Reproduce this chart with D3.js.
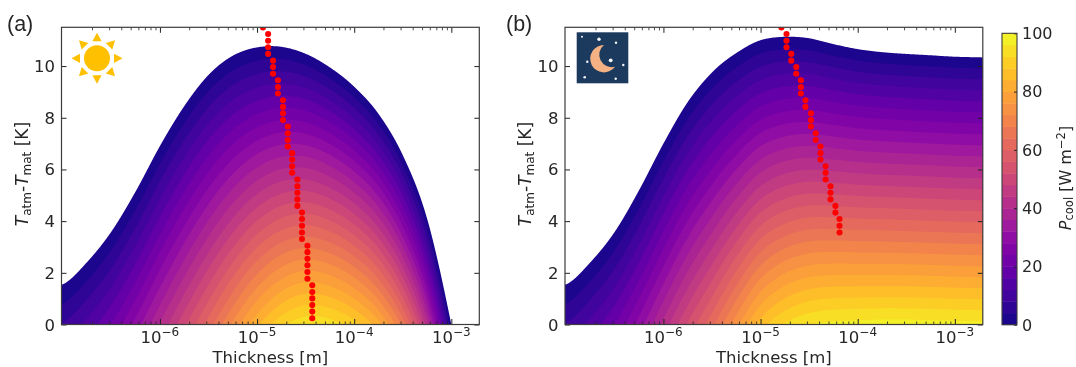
<!DOCTYPE html>
<html>
<head>
<meta charset="utf-8">
<script src="https://cdn.jsdelivr.net/npm/d3@7"></script>
<style>
  html, body { margin: 0; padding: 0; background: #fff; }
  svg { display: block; filter: blur(0.3px); }
  text { font-family: "DejaVu Sans", sans-serif; fill: #262626; }
</style>
</head>
<body>
<div id="chart"></div>
<script>
// --- Data ---
const thicknessLog = [-7, -6.75, -6.5, -6.25, -6, -5.75, -5.5, -5.25, -5, -4.75, -4.5, -4.25, -4, -3.75, -3.5, -3.25, -3, -2.75, -2.5];
const deltaRows = [0, 2, 4, 6, 8, 10, 12];

// cooling power at each thickness (one line per thickness, one value per deltaRows entry)
const powerDay = [
  [8.45, -2.45, -13.35, -24.25, -35.15, -46.05, -56.95],
  [13.4, 2.3, -8.8, -19.9, -31, -42.1, -53.2],
  [20.3, 9, -2.3, -13.6, -24.9, -36.2, -47.5],
  [29.6, 18.1, 6.6, -4.9, -16.4, -27.9, -39.4],
  [40.4, 28.7, 17, 5.3, -6.4, -18.1, -29.8],
  [51.1, 39, 26.9, 14.8, 2.7, -9.4, -21.5],
  [61.8, 49, 36.2, 23.4, 10.6, -2.2, -15],
  [72.8, 58.8, 44.8, 30.8, 16.8, 2.8, -11.2],
  [83.1, 67.6, 52.1, 36.6, 21.1, 5.6, -9.9],
  [90.8, 73.9, 57, 40.1, 23.2, 6.3, -10.6],
  [94.8, 76.7, 58.6, 40.5, 22.4, 4.3, -13.8],
  [94, 75.1, 56.2, 37.3, 18.4, -0.5, -19.4],
  [89.7, 70.2, 50.7, 31.2, 11.7, -7.8, -27.3],
  [81.5, 61.5, 41.5, 21.5, 1.5, -18.5, -38.5],
  [66.5, 46.2, 25.9, 5.6, -14.7, -35, -55.3],
  [41.4, 21.2, 1, -19.2, -39.4, -59.6, -79.8],
  [0, -20, -40, -60, -80, -100, -120],
  [-50, -70, -90, -110, -130, -150, -170],
  [-100, -120, -140, -160, -180, -200, -220]
];
const powerNight = [
  [8.45, -2.45, -13.35, -24.25, -35.15, -46.05, -56.95],
  [13.4, 2.3, -8.8, -19.9, -31, -42.1, -53.2],
  [20.3, 9, -2.3, -13.6, -24.9, -36.2, -47.5],
  [29.9, 18.4, 6.9, -4.6, -16.1, -27.6, -39.1],
  [41.3, 29.5, 17.7, 5.9, -5.9, -17.7, -29.5],
  [52.5, 40.3, 28.1, 15.9, 3.7, -8.5, -20.7],
  [62.9, 50, 37.1, 24.2, 11.3, -1.6, -14.5],
  [74.6, 60.4, 46.2, 32, 17.8, 3.6, -10.7],
  [85.8, 70.2, 54.6, 39, 23.4, 7.8, -7.8],
  [92.4, 75.8, 59.2, 42.6, 26, 9.4, -7.2],
  [95.8, 78.5, 61.2, 43.9, 26.6, 9.3, -8],
  [97.1, 79.2, 61.3, 43.4, 25.5, 7.6, -10.3],
  [97.5, 79.2, 60.9, 42.6, 24.3, 6, -12.3],
  [97.8, 79.2, 60.7, 42.1, 23.6, 5, -13.6],
  [97.8, 79.1, 60.4, 41.8, 23.1, 4.4, -14.3],
  [97.6, 78.9, 60.1, 41.4, 22.6, 3.9, -14.8],
  [97.4, 78.6, 59.8, 41, 22.2, 3.4, -15.4],
  [97.2, 78.4, 59.6, 40.8, 22, 3.2, -15.7],
  [97, 78.2, 59.4, 40.6, 21.8, 3, -15.9]
];

// red dots: optimum thickness at each temperature difference
const dotDelta = [0.24, 0.5, 0.75, 1.01, 1.26, 1.52, 1.77, 2.03, 2.29, 2.54, 2.8, 3.05, 3.31, 3.56, 3.82, 4.08, 4.33, 4.59, 4.84, 5.1, 5.35, 5.61, 5.87, 6.12, 6.38, 6.63, 6.89, 7.14, 7.4, 7.66, 7.91, 8.17, 8.42, 8.68, 8.94, 9.19, 9.45, 9.7, 9.96, 10.21, 10.47, 10.73, 10.98, 11.24, 11.49];
const dotThicknessDay = [
  3.7e-5, 3.7e-5, 3.7e-5, 3.7e-5, 3.7e-5, 3.7e-5,
  3.3e-5, 3.3e-5, 3.3e-5, 3.3e-5, 3.3e-5, 3.3e-5,
  2.9e-5, 2.9e-5, 2.9e-5, 2.9e-5, 2.9e-5,
  2.6e-5, 2.6e-5, 2.6e-5, 2.6e-5, 2.6e-5,
  2.3e-5, 2.3e-5, 2.3e-5, 2.3e-5,
  2.07e-5, 2.07e-5, 2.07e-5, 2.07e-5,
  1.85e-5, 1.85e-5, 1.85e-5, 1.85e-5,
  1.64e-5, 1.64e-5, 1.64e-5,
  1.46e-5, 1.46e-5, 1.46e-5,
  1.3e-5, 1.3e-5, 1.3e-5, 1.3e-5,
  1.15e-5
];
const dotDeltaNight = dotDelta.slice(13);
const dotThicknessNight = [
  6.5e-5, 6.5e-5, 6.5e-5,
  5.9e-5, 5.9e-5,
  5.25e-5, 5.25e-5, 5.25e-5,
  4.67e-5, 4.67e-5, 4.67e-5,
  4.14e-5, 4.14e-5, 4.14e-5,
  3.7e-5, 3.7e-5,
  3.3e-5, 3.3e-5, 3.3e-5,
  2.9e-5, 2.9e-5,
  2.6e-5, 2.6e-5, 2.6e-5,
  2.33e-5, 2.33e-5,
  2.07e-5, 2.07e-5,
  1.85e-5, 1.85e-5, 1.85e-5,
  1.64e-5
];

const levels = [0, 4, 8, 12, 16, 20, 24, 28, 32, 36, 40, 44, 48, 52, 56, 60, 64, 68, 72, 76, 80, 84, 88, 92, 96];
const deltaTicks = [0, 2, 4, 6, 8, 10];
const thicknessTicks = [-6, -5, -4, -3];
const powerTicks = [0, 20, 40, 60, 80, 100];

// --- Setup ---
const svg = d3.select('#chart').append('svg').attr('width', 1076).attr('height', 367);
const axisColor = '#3c3c3c';
const bandColor = d => d3.interpolatePlasma((d + 2) / 100);

// Catmull-Rom along thickness, straight line along delta T
function powerAt(table, logT, delta) {
  const u = Math.max(0, Math.min(thicknessLog.length - 1.001, (logT - thicknessLog[0]) / 0.25));
  const i = Math.floor(u), f = u - i;
  const r = Math.min(deltaRows.length - 2, Math.floor(delta / 2)), g = delta / 2 - r;
  const at = (c, k) => table[Math.max(0, Math.min(table.length - 1, c))][k];
  const along = k => {
    const p0 = at(i - 1, k), p1 = at(i, k), p2 = at(i + 1, k), p3 = at(i + 2, k);
    return 0.5 * (2 * p1 + (p2 - p0) * f + (2 * p0 - 5 * p1 + 4 * p2 - p3) * f * f + (3 * p1 - p0 - 3 * p2 + p3) * f * f * f);
  };
  return along(r) * (1 - g) + along(r + 1) * g;
}

function drawPanel(cfg) {
  const x = d3.scaleLog().domain([0.97e-7, 1.94e-3]).range([cfg.left, cfg.right]);
  const y = d3.scaleLinear().domain([0, 11.5]).range([324.5, 27.3]);
  const g = svg.append('g');

  g.append('clipPath').attr('id', cfg.id).append('rect')
    .attr('x', cfg.left).attr('y', 27.3)
    .attr('width', cfg.right - cfg.left).attr('height', 324.5 - 27.3);

  // --- Filled contours ---
  const nx = Math.ceil(cfg.right - cfg.left) + 1;
  const ny = Math.ceil(324.5 - 27.3) + 1;
  const values = new Float64Array(nx * ny);
  for (let j = 0; j < ny; j++) {
    const delta = Math.max(0, y.invert(27.3 + j));
    for (let i = 0; i < nx; i++) {
      values[i + j * nx] = powerAt(cfg.power, Math.log10(x.invert(cfg.left + i)), delta);
    }
  }
  const contours = d3.contours().size([nx, ny]).thresholds(levels)(values);
  const path = d3.geoPath(d3.geoTransform({
    point(px, py) { this.stream.point(cfg.left + px - 0.5, 27.3 + py - 0.5); }
  }));
  g.append('g').attr('clip-path', `url(#${cfg.id})`)
    .selectAll('path').data(contours).enter().append('path')
    .attr('d', path)
    .attr('fill', d => bandColor(d.value));

  // --- Dots ---
  g.append('g').attr('clip-path', `url(#${cfg.id})`)
    .selectAll('circle').data(cfg.dotDelta).enter().append('circle')
    .attr('cx', (d, i) => x(cfg.dotThickness[i]))
    .attr('cy', d => y(d))
    .attr('r', 3.05)
    .attr('fill', '#ff0000');

  // --- Frame and inward ticks ---
  const minor = [];
  for (let e = -7; e <= -3; e++) {
    for (let m = 2; m < 10; m++) {
      const v = m * Math.pow(10, e);
      if (v >= x.domain()[0] && v <= x.domain()[1]) minor.push(v);
    }
  }
  const major = thicknessTicks.map(e => Math.pow(10, e));
  [[d3.axisBottom(x), 324.5], [d3.axisTop(x), 27.3]].forEach(([axis, pos]) => {
    const a = g.append('g').attr('transform', `translate(0,${pos})`);
    a.call(axis.tickValues(minor).tickSize(-3).tickFormat(''));
    a.selectAll('line').attr('stroke', '#222').attr('stroke-width', 0.8);
    a.select('.domain').remove();
    const b = g.append('g').attr('transform', `translate(0,${pos})`);
    b.call(axis.tickValues(major).tickSize(-5.5).tickFormat(''));
    b.selectAll('line').attr('stroke', '#222').attr('stroke-width', 1);
    b.select('.domain').remove();
  });
  [[d3.axisLeft(y), cfg.left], [d3.axisRight(y), cfg.right]].forEach(([axis, pos]) => {
    const a = g.append('g').attr('transform', `translate(${pos},0)`);
    a.call(axis.tickValues(deltaTicks).tickSize(-5).tickFormat(''));
    a.selectAll('line').attr('stroke', '#222').attr('stroke-width', 1);
    a.select('.domain').remove();
  });
  g.append('rect')
    .attr('x', cfg.left).attr('y', 27.3)
    .attr('width', cfg.right - cfg.left).attr('height', 324.5 - 27.3)
    .attr('fill', 'none').attr('stroke', axisColor).attr('stroke-width', 1.2);

  // --- Tick labels ---
  g.selectAll('.ytick').data(deltaTicks).enter().append('text')
    .attr('x', cfg.left - 6.5)
    .attr('y', d => y(d) + 6)
    .attr('text-anchor', 'end')
    .style('font-size', '16.5px')
    .text(d => d);

  const xl = g.selectAll('.xtick').data(thicknessTicks).enter().append('text')
    .attr('x', d => x(Math.pow(10, d)))
    .attr('y', 342.8)
    .attr('text-anchor', 'middle')
    .style('font-size', '16.5px');
  xl.append('tspan').text('10');
  xl.append('tspan').attr('dy', -6.5).style('font-size', '12px').text(d => '\u2212' + Math.abs(d));

  // --- Axis labels ---
  g.append('text')
    .attr('x', (cfg.left + cfg.right) / 2)
    .attr('y', 363)
    .attr('text-anchor', 'middle')
    .style('font-size', '16.5px')
    .text('Thickness [m]');

  const yl = g.append('text')
    .attr('transform', `translate(${cfg.left - 34},174) rotate(-90)`)
    .attr('text-anchor', 'middle')
    .style('font-size', '17px');
  yl.append('tspan').style('font-style', 'italic').text('T');
  yl.append('tspan').attr('dy', 3).style('font-size', '12px').text('atm');
  yl.append('tspan').attr('dy', -3).text('-');
  yl.append('tspan').style('font-style', 'italic').text('T');
  yl.append('tspan').attr('dy', 3).style('font-size', '12px').text('mat');
  yl.append('tspan').attr('dy', -3).text(' [K]');

  g.append('text')
    .attr('x', cfg.tagX).attr('y', 31)
    .style('font-family', '"Liberation Sans", sans-serif')
    .style('font-size', '21.5px')
    .text(cfg.tag);
}

drawPanel({ id: 'clip-a', left: 61.5, right: 479.3, power: powerDay, dotDelta: dotDelta, dotThickness: dotThicknessDay, tag: '(a)', tagX: 7 });
drawPanel({ id: 'clip-b', left: 565, right: 982.8, power: powerNight, dotDelta: dotDeltaNight, dotThickness: dotThicknessNight, tag: '(b)', tagX: 506 });

// --- Sun icon ---
const sun = svg.append('g').attr('transform', 'translate(97,58.3)');
sun.append('circle').attr('r', 13).attr('fill', '#ffc000');
d3.range(8).forEach(i => {
  sun.append('path')
    .attr('d', 'M0,-25.5L4.6,-17L-4.6,-17Z')
    .attr('transform', `rotate(${i * 45})`)
    .attr('fill', '#ffc000');
});

// --- Moon icon ---
const moon = svg.append('g');
moon.append('rect').attr('x', 576.7).attr('y', 32.3).attr('width', 51.6).attr('height', 51)
  .attr('fill', '#1b3a5e');
moon.append('path')
  .attr('d', 'M604,45A13.7,13.7 0 1 0 615,66.7A12.4,12.4 0 0 1 604,45Z')
  .attr('fill', '#f4b183');
const stars = [[582, 36.7, 1], [599, 39.3, 1.7], [616, 42.7, 1.2], [587.3, 61.7, 1.2], [610.7, 60.3, 1.9], [623.3, 65, 1.2], [584.7, 77.3, 1.3], [615.7, 78.7, 1.2]];
moon.selectAll('circle').data(stars).enter().append('circle')
  .attr('cx', d => d[0]).attr('cy', d => d[1]).attr('r', d => d[2]).attr('fill', '#f4f6f8');

// --- Colorbar ---
const cbar = d3.scaleLinear().domain([0, 100]).range([324.7, 33.3]);
svg.append('g').selectAll('rect').data(levels).enter().append('rect')
  .attr('x', 1002).attr('width', 15)
  .attr('y', d => cbar(d + 4))
  .attr('height', d => cbar(d) - cbar(d + 4) + 0.4)
  .attr('fill', d => bandColor(d));
const cbarAxis = svg.append('g').attr('transform', 'translate(1017,0)')
  .call(d3.axisRight(cbar).tickValues(powerTicks).tickSize(-3).tickFormat(''));
cbarAxis.selectAll('line').attr('stroke', '#222');
cbarAxis.select('.domain').remove();
svg.append('rect').attr('x', 1002).attr('y', 33.3).attr('width', 15).attr('height', 291.4)
  .attr('fill', 'none').attr('stroke', axisColor).attr('stroke-width', 1.1);
svg.selectAll('.cbtick').data(powerTicks).enter().append('text')
  .attr('x', 1022).attr('y', d => cbar(d) + 5.8)
  .style('font-size', '16px')
  .text(d => d);
const cl = svg.append('text')
  .attr('transform', 'translate(1070.5,178) rotate(-90)')
  .attr('text-anchor', 'middle')
  .style('font-size', '16px');
cl.append('tspan').style('font-style', 'italic').text('P');
cl.append('tspan').attr('dy', 2.5).style('font-size', '11.5px').text('cool');
cl.append('tspan').attr('dy', -2.5).text(' [W m');
cl.append('tspan').attr('dy', -6).style('font-size', '11.5px').text('\u22122');
cl.append('tspan').attr('dy', 6).text(']');
</script>
</body>
</html>
